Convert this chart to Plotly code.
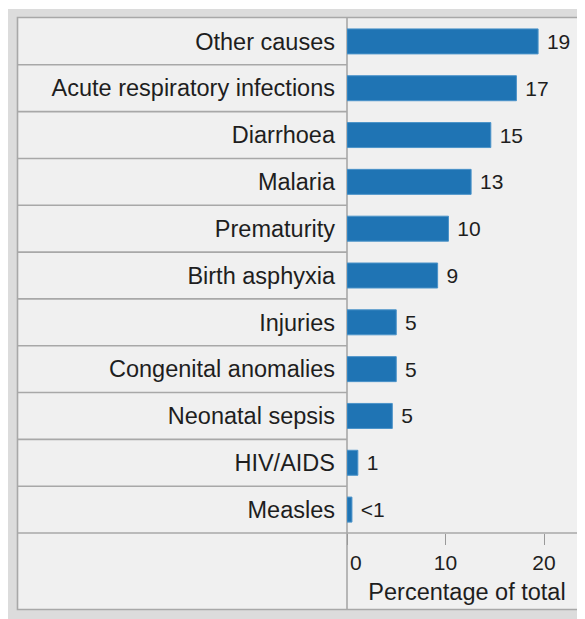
import plotly.graph_objects as go

# ---- data ----
causes = ["Other causes", "Acute respiratory infections", "Diarrhoea", "Malaria",
          "Prematurity", "Birth asphyxia", "Injuries", "Congenital anomalies",
          "Neonatal sepsis", "HIV/AIDS", "Measles"]
values = [19.4, 17.2, 14.6, 12.6, 10.3, 9.2, 5.0, 5.0, 4.6, 1.1, 0.5]
value_labels = ["19", "17", "15", "13", "10", "9", "5", "5", "5", "1", "&lt;1"]
x_tickvals = [0, 10, 20]
x_ticktext = ["\u00a0\u00a0\u00a00", "10", "20"]
x_title = "Percentage of total"

# ---- layout geometry (figure pixels; page body adds an 8px offset) ----
FW, FH = 585, 619
L, R, T, B = 339, 579, 10, 525
PW, PH = R - L, B - T


def px(p):
    return (p - L) / PW


def py(p):
    return (B - p) / PH


FONT = "Liberation Sans, Arial, sans-serif"
TXT = "#1e1e1e"
LINE = "#a8a8a8"

fig = go.Figure(go.Bar(
    y=causes,
    x=values,
    orientation="h",
    marker=dict(color="#1f74b4", line=dict(color="#4b93c9", width=1)),
    text=["\u00a0" + t for t in value_labels],
    textposition="outside",
    textfont=dict(family=FONT, size=21, color=TXT),
    constraintext="none",
    cliponaxis=False,
    hoverinfo="skip",
))

shapes = []
# outer grey frame
shapes.append(dict(type="rect", xref="paper", yref="paper", layer="below",
                   x0=px(0), x1=px(FW + 10), y0=py(FH + 10), y1=py(1),
                   fillcolor="#dcdcdc", line=dict(width=0)))
# inner panel
shapes.append(dict(type="rect", xref="paper", yref="paper", layer="below",
                   x0=px(9.5), x1=px(FW + 10), y0=py(601.5), y1=py(9.5),
                   fillcolor="#f0f0f0", line=dict(color=LINE, width=1.6)))
# row separators in label column
for i in range(len(causes) - 1):
    shapes.append(dict(type="line", xref="paper", yref="y", layer="below",
                       x0=px(9.5), x1=0, y0=i + 0.5, y1=i + 0.5,
                       line=dict(color=LINE, width=1.6)))
# line under last row across full width
shapes.append(dict(type="line", xref="paper", yref="paper", layer="below",
                   x0=px(9.5), x1=px(FW + 10), y0=0, y1=0,
                   line=dict(color=LINE, width=1.6)))
# vertical separator
shapes.append(dict(type="line", xref="paper", yref="paper", layer="below",
                   x0=0, x1=0, y0=py(601.5), y1=py(9.5),
                   line=dict(color=LINE, width=1.6)))

fig.update_layout(
    width=FW, height=FH,
    margin=dict(l=L, r=FW - R, t=T, b=FH - B, pad=0),
    paper_bgcolor="white",
    plot_bgcolor="rgba(0,0,0,0)",
    showlegend=False,
    bargap=0.466,
    shapes=shapes,
    font=dict(family=FONT, color=TXT),
    xaxis=dict(
        range=[0, PW / 9.85],
        tickvals=x_tickvals, ticktext=x_ticktext,
        ticks="outside", ticklen=11, tickcolor="#999999", tickwidth=1,
        tickfont=dict(family=FONT, size=21, color=TXT),
        showgrid=False, zeroline=False, showline=False,
        title=dict(text=x_title, font=dict(family=FONT, size=23.5, color=TXT),
                   standoff=10),
        fixedrange=True,
    ),
    yaxis=dict(
        categoryorder="array", categoryarray=causes,
        range=[len(causes) - 0.5, -0.5],
        ticks="", showgrid=False, zeroline=False, showline=False,
        tickfont=dict(family=FONT, size=23.5, color=TXT),
        ticklabelstandoff=11,
        fixedrange=True,
    ),
)

fig.write_html("out.html")
